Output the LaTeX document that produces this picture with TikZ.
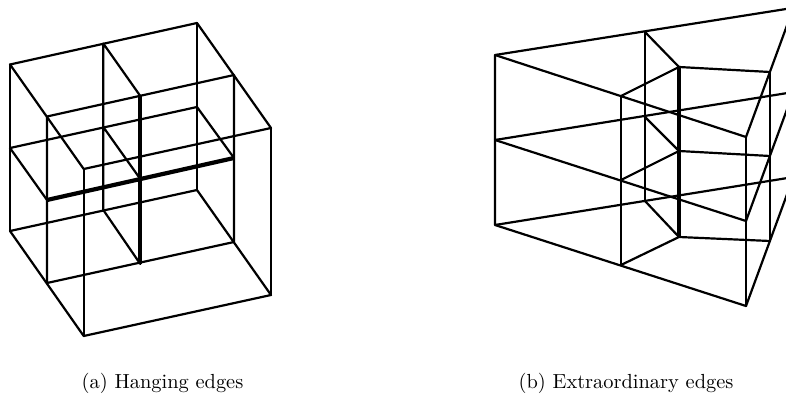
\documentclass[tikz,border=0pt]{standalone}
\tikzset{
  edge/.style={draw=black,line width=2.2pt,line cap=round,line join=round},
  heavy/.style={draw=black,line width=4.2pt,line cap=butt},
  captiontext/.style={inner sep=0pt,scale=2.04,text=black}
}
\begin{document}
\begin{tikzpicture}[x=1pt,y=-1pt]
\useasboundingbox (0,0) rectangle (786,395);
\clip (0,0) rectangle (786,395);
% (a) cube corners
\foreach \n/\x/\y in {
 a/10/64.5,b/197/23,c/271/128,d/83.7/169,
 e/10/231,f/197/190,g/271/295,h/83.7/336,
 i/10/148,j/197/107,k/47/200,l/234/158,
 m/47/116.5,n/234/75,o/47/283,p/234/242,
 q/103.3/43.5,r/140.3/96,s/103.3/127,t/140.3/179,u/103.3/210,v/140.3/264}
 {\coordinate (\n) at (\x,\y);}
\draw[edge] (a)--(b)--(c)--(d)--cycle;
\draw[edge] (e)--(f)--(g)--(h)--cycle;
\draw[edge] (a)--(e) (b)--(f) (c)--(g) (d)--(h);
\draw[edge] (m)--(n) (o)--(p) (m)--(o) (n)--(p);
\draw[edge] (i)--(j)--(l) (i)--(k);
\draw[edge] (q)--(u) (q)--(r) (s)--(t) (u)--(v);
\draw[heavy] (k)--(l);
\draw[heavy] (r)--(v);
% (b)
\foreach \n/\x/\y in {
 A/495/55,B/495/140,C/495/225,
 D/746/137,E/746/221,F/746/306,
 G/621/96,H/621/180,I/621/265,
 J/645/32,K/645/117,L/645/201,
 M/679/67,N/679/151,O/679/237,
 P/770/72,Q/770/156,R/770/241,
 S/800/6.8,T/800/91,U/800/176,
 V/800/-10,W/800/74,X/800/159}
 {\coordinate (\n) at (\x,\y);}
\draw[edge] (A)--(C) (A)--(S) (B)--(T) (C)--(U);
\draw[edge] (A)--(D) (B)--(E) (C)--(F);
\draw[edge] (D)--(F) (G)--(I) (J)--(L) (P)--(R);
\draw[edge] (G)--(M)--(P) (H)--(N)--(Q) (I)--(O)--(R);
\draw[edge] (J)--(M) (K)--(N) (L)--(O);
\draw[edge] (D)--(V) (E)--(W) (F)--(X);
\draw[heavy] (M)--(O);
\node[captiontext] (capa) at (162.5,383) {(a) Hanging edges};
\node[captiontext] (capb) at (626,383) {(b) Extraordinary edges};
\end{tikzpicture}
\end{document}
